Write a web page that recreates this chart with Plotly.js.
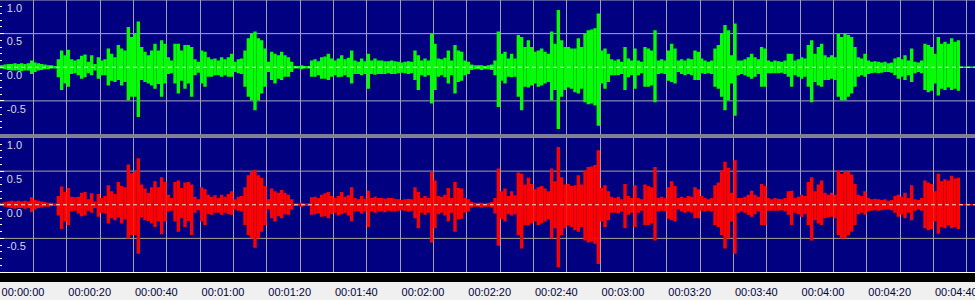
<!DOCTYPE html>
<html><head><meta charset="utf-8">
<script src="https://cdn.plot.ly/plotly-3.0.1.min.js"></script>
<style>html,body{margin:0;padding:0;background:#f0f0f0;overflow:hidden}#chart{width:975px;height:300px}</style>
</head><body><div id="chart"></div>
<script>
// Envelope of each channel, one value per second (peak max / peak min)
const greenMax = [
0.03,0.04,0.05,0.05,0.06,0.05,0.06,0.05,0.06,0.10,
0.07,0.06,0.05,0.04,0.03,0.03,0.02,0.12,0.25,0.18,
0.26,0.12,0.10,0.12,0.17,0.19,0.08,0.18,0.05,0.15,
0.10,0.12,0.28,0.20,0.15,0.33,0.28,0.25,0.60,0.45,
0.50,0.68,0.30,0.23,0.18,0.25,0.35,0.25,0.40,0.35,
0.15,0.10,0.35,0.35,0.25,0.33,0.33,0.30,0.12,0.08,
0.25,0.23,0.15,0.12,0.13,0.10,0.15,0.12,0.15,0.20,
0.08,0.12,0.13,0.25,0.43,0.50,0.53,0.43,0.40,0.28,
0.08,0.23,0.20,0.18,0.23,0.18,0.15,0.08,0.02,0.02,
0.03,0.02,0.02,0.10,0.12,0.09,0.15,0.16,0.20,0.13,
0.10,0.13,0.18,0.12,0.14,0.25,0.10,0.08,0.13,0.09,
0.20,0.10,0.13,0.10,0.10,0.09,0.09,0.10,0.09,0.08,
0.07,0.08,0.09,0.08,0.25,0.18,0.10,0.13,0.10,0.50,
0.35,0.13,0.12,0.14,0.25,0.10,0.33,0.25,0.23,0.10,
0.08,0.04,0.03,0.03,0.03,0.02,0.03,0.04,0.10,0.53,
0.20,0.23,0.13,0.20,0.13,0.48,0.45,0.30,0.40,0.30,
0.23,0.25,0.28,0.23,0.20,0.53,0.35,0.85,0.40,0.30,
0.30,0.28,0.28,0.43,0.30,0.50,0.55,0.56,0.58,0.80,
0.25,0.28,0.20,0.12,0.10,0.12,0.08,0.30,0.13,0.10,
0.28,0.10,0.08,0.30,0.28,0.25,0.55,0.10,0.12,0.10,
0.25,0.35,0.28,0.10,0.12,0.10,0.13,0.12,0.25,0.23,
0.13,0.10,0.08,0.10,0.28,0.33,0.50,0.63,0.55,0.18,
0.65,0.10,0.10,0.12,0.15,0.20,0.15,0.12,0.30,0.28,
0.10,0.08,0.10,0.09,0.08,0.10,0.20,0.20,0.10,0.12,
0.15,0.13,0.33,0.40,0.20,0.30,0.35,0.18,0.15,0.18,
0.15,0.50,0.45,0.50,0.48,0.45,0.30,0.15,0.13,0.20,
0.10,0.08,0.09,0.08,0.07,0.08,0.06,0.07,0.13,0.15,
0.12,0.18,0.10,0.28,0.08,0.07,0.10,0.35,0.33,0.30,
0.20,0.45,0.35,0.38,0.35,0.43,0.38,0.40,
0.01,0.01,0.01,0.01,0.01];
const greenMin = [
-0.02,-0.03,-0.04,-0.05,-0.05,-0.05,-0.06,-0.05,-0.05,-0.10,
-0.07,-0.05,-0.04,-0.03,-0.03,-0.02,-0.02,-0.15,-0.34,-0.24,
-0.29,-0.10,-0.09,-0.12,-0.17,-0.15,-0.09,-0.12,-0.05,-0.17,
-0.12,-0.12,-0.27,-0.20,-0.22,-0.19,-0.27,-0.22,-0.49,-0.44,
-0.44,-0.74,-0.19,-0.22,-0.24,-0.27,-0.32,-0.25,-0.44,-0.24,
-0.10,-0.09,-0.24,-0.39,-0.20,-0.32,-0.24,-0.44,-0.12,-0.08,
-0.24,-0.29,-0.14,-0.14,-0.12,-0.12,-0.14,-0.12,-0.14,-0.14,
-0.07,-0.09,-0.10,-0.29,-0.44,-0.49,-0.64,-0.49,-0.39,-0.29,
-0.07,-0.19,-0.24,-0.17,-0.19,-0.14,-0.14,-0.07,-0.02,-0.02,
-0.03,-0.02,-0.02,-0.14,-0.14,-0.12,-0.17,-0.17,-0.19,-0.14,
-0.12,-0.15,-0.14,-0.12,-0.15,-0.24,-0.10,-0.10,-0.12,-0.10,
-0.32,-0.10,-0.11,-0.10,-0.10,-0.10,-0.09,-0.10,-0.10,-0.09,
-0.08,-0.09,-0.10,-0.09,-0.19,-0.34,-0.12,-0.14,-0.12,-0.54,
-0.34,-0.14,-0.12,-0.15,-0.24,-0.12,-0.39,-0.22,-0.20,-0.12,
-0.10,-0.04,-0.03,-0.03,-0.04,-0.03,-0.03,-0.04,-0.12,-0.59,
-0.20,-0.24,-0.14,-0.15,-0.14,-0.44,-0.64,-0.29,-0.30,-0.27,
-0.24,-0.29,-0.27,-0.24,-0.22,-0.49,-0.34,-0.92,-0.44,-0.34,
-0.30,-0.32,-0.37,-0.39,-0.32,-0.52,-0.55,-0.54,-0.57,-0.87,
-0.24,-0.32,-0.22,-0.12,-0.12,-0.12,-0.10,-0.34,-0.15,-0.12,
-0.32,-0.12,-0.09,-0.29,-0.29,-0.27,-0.52,-0.10,-0.09,-0.10,
-0.20,-0.22,-0.24,-0.07,-0.10,-0.12,-0.10,-0.12,-0.19,-0.19,
-0.09,-0.10,-0.09,-0.10,-0.29,-0.32,-0.44,-0.64,-0.49,-0.24,
-0.72,-0.12,-0.10,-0.12,-0.14,-0.17,-0.14,-0.10,-0.29,-0.29,
-0.09,-0.09,-0.09,-0.09,-0.08,-0.10,-0.14,-0.29,-0.12,-0.14,
-0.17,-0.14,-0.29,-0.52,-0.22,-0.27,-0.29,-0.19,-0.19,-0.17,
-0.19,-0.44,-0.49,-0.49,-0.44,-0.39,-0.29,-0.14,-0.12,-0.14,
-0.10,-0.09,-0.08,-0.09,-0.08,-0.07,-0.07,-0.08,-0.12,-0.17,
-0.14,-0.19,-0.12,-0.22,-0.09,-0.07,-0.09,-0.34,-0.37,-0.35,
-0.24,-0.42,-0.32,-0.34,-0.30,-0.34,-0.32,-0.35,
-0.01,-0.01,-0.01,-0.01,-0.01];
const redMax = [
0.03,0.04,0.05,0.06,0.05,0.06,0.05,0.06,0.05,0.11,
0.07,0.06,0.05,0.04,0.03,0.03,0.02,0.13,0.27,0.19,
0.25,0.12,0.11,0.12,0.18,0.19,0.08,0.17,0.05,0.16,
0.10,0.13,0.29,0.20,0.16,0.34,0.28,0.26,0.60,0.47,
0.50,0.69,0.30,0.24,0.18,0.26,0.35,0.26,0.41,0.34,
0.15,0.10,0.34,0.36,0.25,0.33,0.34,0.30,0.12,0.08,
0.26,0.23,0.15,0.12,0.14,0.10,0.15,0.12,0.16,0.20,
0.08,0.12,0.13,0.26,0.44,0.50,0.52,0.44,0.40,0.28,
0.08,0.24,0.20,0.18,0.22,0.18,0.15,0.08,0.02,0.02,
0.03,0.02,0.02,0.11,0.12,0.10,0.15,0.17,0.19,0.13,
0.10,0.13,0.19,0.12,0.14,0.26,0.10,0.08,0.13,0.09,
0.21,0.10,0.12,0.10,0.10,0.09,0.10,0.10,0.09,0.08,
0.07,0.08,0.09,0.08,0.26,0.19,0.10,0.13,0.10,0.50,
0.36,0.13,0.12,0.15,0.25,0.10,0.34,0.25,0.24,0.10,
0.08,0.04,0.03,0.03,0.03,0.02,0.03,0.04,0.10,0.54,
0.20,0.24,0.13,0.20,0.14,0.48,0.46,0.30,0.40,0.31,
0.23,0.26,0.28,0.24,0.20,0.54,0.35,0.86,0.41,0.30,
0.31,0.28,0.29,0.44,0.30,0.51,0.56,0.57,0.59,0.81,
0.25,0.29,0.20,0.12,0.10,0.12,0.08,0.31,0.13,0.10,
0.29,0.10,0.08,0.30,0.28,0.26,0.56,0.10,0.12,0.10,
0.26,0.35,0.28,0.10,0.12,0.10,0.13,0.12,0.26,0.23,
0.13,0.10,0.08,0.10,0.29,0.33,0.51,0.64,0.55,0.18,
0.66,0.10,0.10,0.12,0.15,0.21,0.15,0.12,0.31,0.28,
0.10,0.08,0.10,0.09,0.08,0.10,0.20,0.21,0.10,0.12,
0.15,0.13,0.34,0.41,0.20,0.30,0.36,0.18,0.15,0.18,
0.15,0.51,0.46,0.50,0.49,0.45,0.31,0.15,0.13,0.20,
0.10,0.08,0.09,0.08,0.07,0.08,0.06,0.07,0.13,0.15,
0.12,0.18,0.10,0.29,0.08,0.07,0.10,0.36,0.33,0.31,
0.20,0.46,0.35,0.38,0.36,0.43,0.39,0.40,
0.01,0.01,0.01,0.01,0.01];
const redMin = [
-0.02,-0.03,-0.04,-0.05,-0.06,-0.05,-0.05,-0.06,-0.05,-0.11,
-0.07,-0.05,-0.04,-0.03,-0.03,-0.02,-0.02,-0.16,-0.36,-0.25,
-0.30,-0.10,-0.09,-0.13,-0.17,-0.16,-0.09,-0.12,-0.05,-0.18,
-0.12,-0.13,-0.28,-0.20,-0.23,-0.19,-0.28,-0.22,-0.50,-0.45,
-0.45,-0.73,-0.19,-0.23,-0.24,-0.28,-0.33,-0.25,-0.44,-0.25,
-0.10,-0.09,-0.25,-0.40,-0.20,-0.33,-0.24,-0.45,-0.12,-0.08,
-0.25,-0.30,-0.14,-0.15,-0.12,-0.12,-0.15,-0.12,-0.14,-0.15,
-0.07,-0.09,-0.10,-0.30,-0.45,-0.50,-0.64,-0.50,-0.40,-0.30,
-0.07,-0.20,-0.25,-0.17,-0.20,-0.14,-0.15,-0.07,-0.02,-0.02,
-0.03,-0.02,-0.02,-0.15,-0.14,-0.13,-0.18,-0.17,-0.20,-0.14,
-0.12,-0.16,-0.14,-0.12,-0.16,-0.25,-0.10,-0.10,-0.13,-0.10,
-0.33,-0.10,-0.12,-0.10,-0.10,-0.11,-0.09,-0.10,-0.10,-0.09,
-0.08,-0.09,-0.10,-0.09,-0.20,-0.35,-0.12,-0.15,-0.12,-0.56,
-0.35,-0.14,-0.12,-0.16,-0.25,-0.12,-0.40,-0.22,-0.21,-0.12,
-0.10,-0.04,-0.03,-0.03,-0.04,-0.03,-0.03,-0.04,-0.13,-0.61,
-0.21,-0.25,-0.14,-0.16,-0.14,-0.45,-0.65,-0.30,-0.31,-0.28,
-0.25,-0.30,-0.28,-0.25,-0.22,-0.50,-0.35,-0.93,-0.45,-0.35,
-0.31,-0.33,-0.38,-0.40,-0.33,-0.53,-0.56,-0.55,-0.58,-0.88,
-0.25,-0.33,-0.23,-0.12,-0.12,-0.13,-0.10,-0.35,-0.15,-0.12,
-0.33,-0.12,-0.09,-0.30,-0.30,-0.28,-0.53,-0.10,-0.09,-0.10,
-0.21,-0.23,-0.25,-0.07,-0.10,-0.12,-0.10,-0.12,-0.20,-0.20,
-0.09,-0.10,-0.09,-0.10,-0.30,-0.33,-0.45,-0.65,-0.50,-0.25,
-0.73,-0.12,-0.10,-0.12,-0.15,-0.18,-0.14,-0.10,-0.30,-0.30,
-0.09,-0.09,-0.09,-0.09,-0.08,-0.10,-0.15,-0.30,-0.12,-0.14,
-0.18,-0.14,-0.30,-0.53,-0.23,-0.28,-0.30,-0.20,-0.19,-0.18,
-0.20,-0.45,-0.50,-0.50,-0.45,-0.40,-0.30,-0.14,-0.12,-0.15,
-0.10,-0.09,-0.08,-0.09,-0.08,-0.07,-0.07,-0.08,-0.12,-0.18,
-0.15,-0.20,-0.12,-0.23,-0.09,-0.07,-0.09,-0.35,-0.38,-0.36,
-0.25,-0.43,-0.33,-0.35,-0.31,-0.35,-0.33,-0.36,
-0.01,-0.01,-0.01,-0.01,-0.01];

// time ruler: a tick (and grid line) every 10 s, a label every 20 s
const timeTickVals = [0,10,20,30,40,50,60,70,80,90,100,110,120,130,140,150,160,170,180,190,200,210,220,230,240,250,260,270,280,290];
const timeTickText = ['00:00:00','','00:00:20','','00:00:40','','00:01:00','','00:01:20','','00:01:40','','00:02:00','',
  '00:02:20','','00:02:40','','00:03:00','','00:03:20','','00:03:40','','00:04:00','','00:04:20','','00:04:40',''];
const ampTickVals = [1, 0.5, 0, -0.5];
const ampTickText = ['1.0','0.5','0.0','-0.5'];
const ampGridVals = [1, 0.5, -0.5];
const timeRange = [0, 292.5];

const NAVY = '#000080';
const H = 282; // plot-area height in px (figure 300 - bottom margin 18)
const domTop = [(H-134.5)/H, 1];
const domBot = [10/H, (H-137.5)/H];
const domBand = [0, 10/H];

function envelope(maxArr, minArr, color, yax){
  return {type:'bar', x0:0.5, dx:1, base:minArr, y:maxArr.map((v,i)=>v-minArr[i]),
    width:1, marker:{color:color, line:{width:0}}, xaxis:'x', yaxis:yax, hoverinfo:'skip'};
}
const data = [
  envelope(greenMax, greenMin, '#00ff00', 'y2'),
  envelope(redMax, redMin, '#ff0000', 'y')
];

function ampAxis(dom){
  return {domain:dom, range:[-1,1], fixedrange:true, anchor:'x',
    tickmode:'array', tickvals:ampTickVals, ticktext:ampTickText,
    ticks:'inside', ticklen:4, tickcolor:'#ffffff', tickwidth:1,
    ticklabelposition:'inside', ticklabelshift:8, ticklabelstandoff:2, ticklabeloverflow:'allow',
    tickfont:{family:'Liberation Sans, Arial, sans-serif', size:11, color:'#d8d8e8'},
    showgrid:false, zeroline:false, showline:false,
    minor:{dtick:0.1, tick0:0, ticks:'inside', ticklen:2, tickcolor:'#ffffff', showgrid:false}};
}

const shapes = [];
ampGridVals.forEach(v=>{
  shapes.push({type:'line', xref:'paper', x0:0, x1:1, yref:'y2', y0:v, y1:v, line:{color:'#a8a8b8', width:1}, layer:'below'});
  shapes.push({type:'line', xref:'paper', x0:0, x1:1, yref:'y', y0:v, y1:v, line:{color:'#a4a490', width:1}, layer:'below'});
});
// dashed centre lines
shapes.push({type:'line', xref:'paper', x0:0, x1:1, yref:'y2', y0:0, y1:0, line:{color:'#e8e8d8', width:1, dash:'4px,3px'}, layer:'above'});
shapes.push({type:'line', xref:'paper', x0:0, x1:1, yref:'y', y0:0, y1:0, line:{color:'#f0e8d8', width:1, dash:'4px,3px'}, layer:'above'});
// separator between channels
shapes.push({type:'rect', xref:'paper', x0:0, x1:1, yref:'paper', y0:domBot[1], y1:domTop[0], fillcolor:'#808080', line:{width:0}, layer:'above'});
// overview band
shapes.push({type:'rect', xref:'paper', x0:0, x1:1, yref:'paper', y0:0, y1:9/H, fillcolor:'#000000', line:{width:0}, layer:'below'});
shapes.push({type:'rect', xref:'paper', x0:0, x1:1, yref:'paper', y0:9/H, y1:10/H, fillcolor:'#ffffff', line:{width:0}, layer:'below'});

const layout = {
  width:975, height:300, margin:{l:0, r:0, t:0, b:18, pad:0},
  paper_bgcolor:'#f0f0f0', plot_bgcolor:NAVY, showlegend:false,
  xaxis:{anchor:'y3', side:'bottom', range:timeRange, fixedrange:true,
    tickmode:'array', tickvals:timeTickVals, ticktext:timeTickText,
    showgrid:true, gridcolor:'#a0a0a8', gridwidth:1,
    ticks:'outside', ticklen:6, tickwidth:1, tickcolor:'#000000',
    ticklabelshift:23, ticklabelstandoff:4, ticklabeloverflow:'allow',
    tickfont:{family:'Liberation Sans, Arial, sans-serif', size:11, color:'#000040'},
    zeroline:false, showline:false,
    minor:{dtick:2, tick0:0, ticks:'outside', ticklen:2, tickwidth:1, tickcolor:'#000000', showgrid:false}},
  yaxis: ampAxis(domBot),
  yaxis2: ampAxis(domTop),
  yaxis3:{domain:domBand, range:[0,1], fixedrange:true, anchor:'x', showgrid:false, zeroline:false,
    showticklabels:false, ticks:'', showline:false},
  shapes:shapes
};

Plotly.newPlot('chart', data, layout, {displayModeBar:false, staticPlot:true});
</script>
</body></html>
